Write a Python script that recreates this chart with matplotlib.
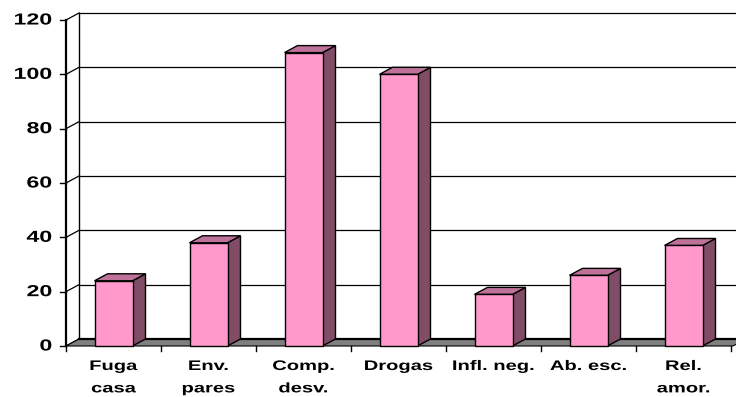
import matplotlib
matplotlib.use("Agg")
import matplotlib.pyplot as plt
from matplotlib.patches import Polygon
from matplotlib import patheffects
from matplotlib.transforms import Affine2D
import numpy as np

categories = ["Fuga\ncasa", "Env.\npares", "Comp.\ndesv.", "Drogas",
              "Infl. neg.", "Ab. esc.", "Rel.\namor."]
values = [24, 38, 108, 100, 19, 26, 37]
yticks = [0, 20, 40, 60, 80, 100, 120]

FRONT = "#FF99CC"
TOP = "#BF7299"
SIDE = "#804C66"
FLOOR = "#808080"


class HStretch(patheffects.AbstractPathEffect):
    """Draw text glyphs widened horizontally about a chosen anchor."""

    def __init__(self, sx, anchor="center"):
        super().__init__()
        self.sx = sx
        self.anchor = anchor

    def draw_path(self, renderer, gc, tpath, affine, rgbFace=None):
        ext = tpath.get_extents()
        if self.anchor == "right":
            cx = ext.x1
        elif self.anchor == "left":
            cx = ext.x0
        else:
            cx = 0.5 * (ext.x0 + ext.x1)
        t = Affine2D().translate(-cx, 0).scale(self.sx, 1).translate(cx, 0) + affine
        renderer.draw_path(gc, tpath, t, rgbFace)


W, H, DPI = 736, 397, 100
fig = plt.figure(figsize=(W / DPI, H / DPI), dpi=DPI)
fig.patch.set_facecolor("white")

# front plane of the 3-D box in pixels
x0_px, x1_px, y0_px, y1_px = 66, 731, 346, 20
ax = fig.add_axes([x0_px / W, (H - y0_px) / H,
                   (x1_px - x0_px) / W, (y0_px - y1_px) / H])
ax.set_xlim(-0.5, len(categories) - 0.5)
ax.set_ylim(0, 120)
ax.axis("off")

# depth offset of the back plane, in data units
px_x = (x1_px - x0_px) / len(categories)
px_y = (y0_px - y1_px) / 120.0
dx = 13 / px_x
dy = 7 / px_y

xl, xr = -0.5, len(categories) - 0.5

# back wall gridlines and left edge
for t in yticks:
    ax.plot([xl + dx, xr + dx + 0.2], [t + dy, t + dy], color="black",
            lw=0.9, clip_on=False, zorder=1)
ax.plot([xl + dx, xl + dx], [dy, 120 + dy], color="black", lw=1.0,
        clip_on=False, zorder=1)

# left side wall: front edge and diagonals to the back wall
ax.plot([xl, xl], [0, 120], color="black", lw=1.6, clip_on=False, zorder=2)
for t in yticks:
    ax.plot([xl, xl + dx], [t, t + dy], color="black", lw=0.9,
            clip_on=False, zorder=2)

# floor
floor = Polygon([(xl, 0), (xr + 0.02, 0), (xr + dx + 0.02, dy), (xl + dx, dy)],
                closed=True, facecolor=FLOOR, edgecolor="black", lw=0.8,
                clip_on=False, zorder=2)
ax.add_patch(floor)
ax.plot([xl + dx, xr + dx + 0.2], [dy, dy], color="black", lw=1.6,
        clip_on=False, zorder=2)

# bars with top and side faces
x = np.arange(len(categories))
bw = 0.4
ax.bar(x, values, width=bw, color=FRONT, edgecolor="black", lw=1.0,
       zorder=5, clip_on=False)
for xi, v in zip(x, values):
    l, r = xi - bw / 2, xi + bw / 2
    top = Polygon([(l, v), (r, v), (r + dx, v + dy), (l + dx, v + dy)],
                  closed=True, facecolor=TOP, edgecolor="black", lw=1.0,
                  zorder=4, clip_on=False)
    side = Polygon([(r, 0), (r + dx, dy), (r + dx, v + dy), (r, v)],
                   closed=True, facecolor=SIDE, edgecolor="black", lw=1.0,
                   zorder=4, clip_on=False)
    ax.add_patch(side)
    ax.add_patch(top)

STRETCH = 1.45

# y ticks and labels
tick_len = 6 / px_x
for t in yticks:
    ax.plot([xl - tick_len, xl], [t, t], color="black", lw=1.0, clip_on=False)
    ax.text(xl - 14 / px_x, t, str(t), ha="right", va="center",
            fontsize=11.5, fontweight="bold", family="Liberation Sans",
            clip_on=False,
            path_effects=[HStretch(STRETCH, "right")])

# category boundary ticks and labels
for b in np.arange(len(categories) + 1) - 0.5:
    ax.plot([b, b], [0, -5 / px_y], color="black", lw=1.0, clip_on=False)
for xi, lab in zip(x, categories):
    ax.text(xi, -13 / px_y, lab, ha="center", va="top", fontsize=10,
            fontweight="bold", family="Liberation Sans", linespacing=1.76,
            clip_on=False,
            path_effects=[HStretch(STRETCH, "center")])

fig.savefig("out.png", dpi=DPI, facecolor="white")
